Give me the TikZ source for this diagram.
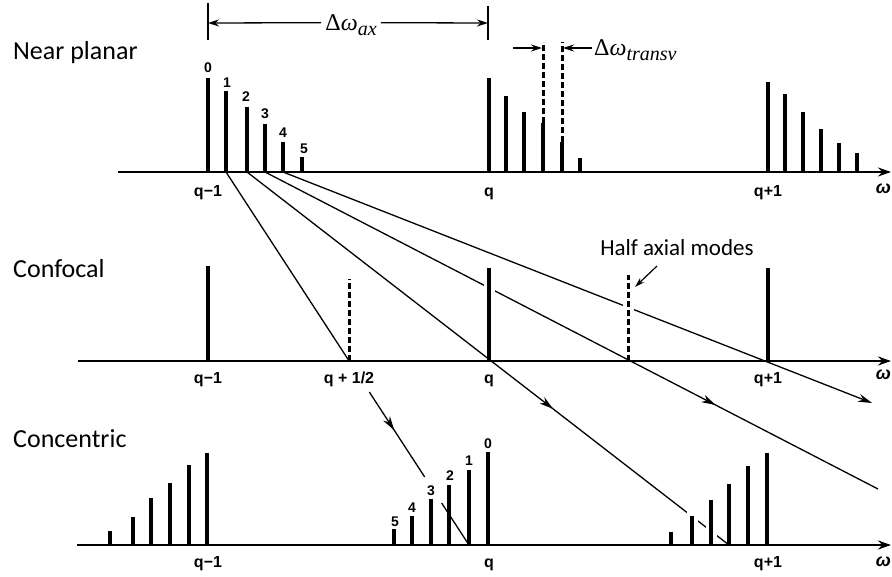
\documentclass[tikz,border=0pt]{standalone}
\usepackage{fontspec}
\setmainfont{Carlito}
\newfontfamily\axfont{Liberation Sans}
\newfontfamily\mserif{Liberation Serif}
\usetikzlibrary{arrows.meta,decorations.markings,calc}
\newcommand{\dsym}[1]{{\mserif\fontsize{24}{28}\selectfont Δ\itshape ω}\raisebox{-5pt}{\mserif\itshape\fontsize{20}{22}\selectfont #1}}
\begin{document}
\begin{tikzpicture}[x=1pt,y=-1pt,
 axis/.style={line width=2pt,-{Stealth[length=13pt,width=9pt]}},
 mode/.style={line width=3.2pt},
 dmode/.style={line width=3pt,dash pattern=on 6pt off 3pt},
 halo/.style={white,line width=11pt},
 ray/.style={line width=1.3pt},
 tipend/.style={-{Stealth[length=14pt,width=8pt]}},
 midarrow/.style={postaction={decorate},decoration={markings,mark=at position #1 with {\arrow{Stealth[length=14pt,width=8pt]}}}},
 tick/.style={line width=1.4pt},
 dim/.style={line width=1.3pt,-{Stealth[length=11pt,width=7pt]}},
 lbl/.style={font=\fontsize{26}{30}\selectfont, anchor=base west, inner sep=0},
 qlbl/.style={font=\axfont\bfseries\fontsize{16}{18}\selectfont, anchor=base, inner sep=0},
 wlbl/.style={font=\axfont\bfseries\itshape\fontsize{18}{20}\selectfont, anchor=base east, inner sep=0},
 num/.style={font=\axfont\bfseries\fontsize{14}{16}\selectfont, anchor=base, inner sep=0},
]
\useasboundingbox (0,0) rectangle (892,576);

% ray coordinates
\coordinate (r1s) at (226,172); \coordinate (r1e) at (469,545);
\coordinate (r2s) at (247,172); \coordinate (r2e) at (729,545);
\coordinate (r3s) at (265,172); \coordinate (r3e) at (878,489);
\coordinate (r4s) at (283,172); \coordinate (r4e) at (872,403);

% rays
\draw[ray] (r1s) -- ($(r1s)!0.5067!(r1e)$);
\draw[ray, midarrow=0.45] ($(r1s)!0.5898!(r1e)$) -- ($(r1s)!0.8177!(r1e)$);
\draw[ray] ($(r1s)!0.8874!(r1e)$) -- (r1e);
\draw[ray, midarrow=0.635] (r2s) -- (r2e);
\draw[ray, midarrow=0.735] (r3s) -- (r3e);
\draw[ray, tipend] (r4s) -- (r4e);

% halos where rays pass behind bars
\draw[halo] (489,268) -- (489,354);
\draw[halo] (628,275) -- (628,354);
\draw[halo] (692,508) -- (692,539);
\draw[halo] (711,500) -- (711,539);

% near planar bars
\foreach \x/\t in {208/78,226/91,247/107,265/124,283/142,302/157,
                   489/78,506/96,524/112,580/158,
                   768/82,785/94,803/112,821/129,839/143,857/153}
  \draw[mode] (\x,172) -- (\x,\t);
\draw[mode] (543,172) -- (543,123);
\draw[dmode] (543,123) -- (543,42);
\draw[mode] (562,172) -- (562,142);
\draw[dmode] (562,142) -- (562,42);

% confocal bars
\foreach \x/\t in {208/266,489/268,768/268}
  \draw[mode] (\x,361) -- (\x,\t);
\draw[dmode] (349,361) -- (349,279);
\draw[dmode] (628,361) -- (628,275);

% concentric bars
\foreach \x/\t in {110/531,133/517,151/498,170/483,189/465,207/453,
                   394/529,412/516,431/499,449/485,469/470,488/452,
                   671/532,692/516,711/500,729/484,748/466,767/453}
  \draw[mode] (\x,545) -- (\x,\t);

% axes
\draw[axis] (118,172) -- (891,172);
\draw[axis] (78,361) -- (891,361);
\draw[axis] (77,545) -- (891,545);

% delta omega ax
\draw[tick] (208,3) -- (208,40);
\draw[tick] (488,6) -- (488,40);
\node[inner sep=0, anchor=base] (dax) at (351,30) {\dsym{ax}};
\draw[dim] ($(dax.west)+(-4,-2)$) -- (208,23);
\draw[dim] ($(dax.east)+(4,-2)$) -- (488,23);

% delta omega transv
\node[anchor=base west, inner sep=0] (dtr) at (594,55) {\dsym{transv}};
\draw[dim] (513,48) -- (542,48);
\draw[dim] (592,48) -- (563,48);

% row labels
\node[lbl] (np) at (13,59) {Near planar};
\node[lbl] (cf) at (13,277) {Confocal};
\node[lbl] (cc) at (13,447) {Concentric};
\node[font=\fontsize{23}{27}\selectfont, anchor=base, inner sep=0] (ham) at (677,255) {Half axial modes};
\draw[line width=1.2pt,-{Stealth[length=10pt,width=6pt]}] (657,266) -- (635,287);

% numbers near planar
\node[num] at (208,72) {0};
\node[num] at (227,87) {1};
\node[num] at (246,101) {2};
\node[num] at (265,118) {3};
\node[num] at (283,137) {4};
\node[num] at (304,153) {5};

% numbers concentric
\node[num] at (395,526) {5};
\node[num] at (412,512) {4};
\node[num] at (431,495) {3};
\node[num] at (450,480) {2};
\node[num] at (469,465) {1};
\node[num] at (488,448) {0};

% axis labels
\foreach \y in {196,383,567} {
  \node[qlbl] at (208,\y) {q−1};
  \node[qlbl] at (489,\y) {q};
}
\node[qlbl] at (768,196) {q+1};
\node[qlbl] at (768,383) {q+1};
\node[qlbl] at (768,567) {q+1};
\node[qlbl] at (349,383) {q + 1/2};
\node[wlbl] at (891,193) {ω};
\node[wlbl] at (891,379) {ω};
\node[wlbl] at (891,566) {ω};
\end{tikzpicture}
\end{document}
